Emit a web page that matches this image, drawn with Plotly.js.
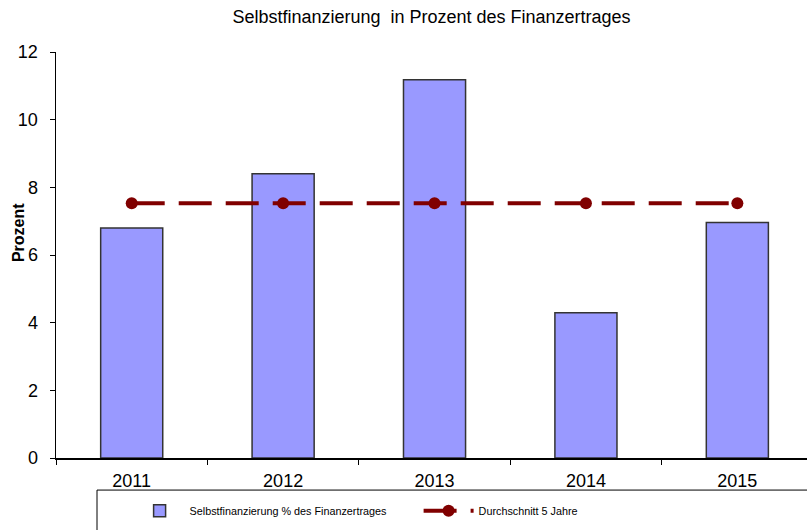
<!DOCTYPE html>
<html>
<head>
<meta charset="utf-8">
<script src="https://cdn.plot.ly/plotly-3.0.1.min.js"></script>
<style>html,body{margin:0;padding:0;background:#fff;}#chart{width:807px;height:530px;}</style>
</head>
<body>
<div id="chart"></div>
<script>
const years = ['2011', '2012', '2013', '2014', '2015'];
const selbstfinanzierung = [6.8, 8.4, 11.18, 4.29, 6.96];
const durchschnitt = [7.53, 7.53, 7.53, 7.53, 7.53];
const yTicks = [0, 2, 4, 6, 8, 10, 12];

const traces = [
  {
    type: 'bar',
    name: 'Selbstfinanzierung % des Finanzertrages',
    x: years,
    y: selbstfinanzierung,
    width: 0.41,
    marker: {color: '#9999FF', line: {color: '#333333', width: 1.5}},
    hoverinfo: 'x+y'
  },
  {
    type: 'scatter',
    mode: 'lines+markers',
    name: 'Durchschnitt 5 Jahre',
    x: years,
    y: durchschnitt,
    line: {color: '#800000', width: 4, dash: '33px,14px'},
    marker: {color: '#800000', size: 12, symbol: 'circle'}
  }
];

const layout = {
  width: 807,
  height: 530,
  margin: {l: 56, r: 0, t: 52, b: 72},
  paper_bgcolor: '#ffffff',
  plot_bgcolor: '#ffffff',
  font: {family: 'Liberation Sans, Arial, sans-serif', color: '#000000', size: 18},
  title: {
    text: 'Selbstfinanzierung  in Prozent des Finanzertrages',
    font: {size: 18, color: '#000000'},
    x: 0.5, xanchor: 'center', xref: 'paper',
    y: 0.968, yanchor: 'middle'
  },
  showlegend: true,
  legend: {
    orientation: 'h',
    x: 0.098, xanchor: 'left',
    y: -0.13, yanchor: 'middle',
    bgcolor: 'rgba(0,0,0,0)',
    borderwidth: 0,
    font: {size: 10.8},
    itemwidth: 50,
    entrywidth: 224,
    entrywidthmode: 'pixels',
    traceorder: 'normal'
  },
  xaxis: {
    type: 'category',
    range: [-0.5, 4.46],
    showgrid: false,
    showline: true,
    linecolor: '#000000',
    linewidth: 1.5,
    ticks: 'outside',
    tickson: 'boundaries',
    ticklen: 5,
    tickcolor: '#000000',
    tickfont: {size: 18},
    ticklabelstandoff: 6,
    zeroline: false,
    fixedrange: true
  },
  yaxis: {
    range: [0, 12],
    tickvals: yTicks,
    showgrid: false,
    showline: true,
    linecolor: '#000000',
    linewidth: 1.5,
    ticks: 'outside',
    ticklen: 5,
    tickcolor: '#000000',
    tickfont: {size: 18},
    ticklabelstandoff: 8,
    zeroline: false,
    fixedrange: true
  },
  annotations: [
    {
      text: '<b>Prozent</b>',
      xref: 'paper', yref: 'paper',
      x: -0.05, y: 0.555,
      xanchor: 'center', yanchor: 'middle',
      textangle: -90,
      showarrow: false,
      font: {size: 16, color: '#000000'}
    }
  ],
  shapes: [
    {
      type: 'rect', xref: 'paper', yref: 'paper',
      x0: 0.0546, x1: 1.2, y0: -0.079, y1: -0.4,
      line: {color: '#000000', width: 1},
      fillcolor: 'rgba(0,0,0,0)'
    }
  ]
};

Plotly.newPlot('chart', traces, layout, {displayModeBar: false, staticPlot: true});
</script>
</body>
</html>
